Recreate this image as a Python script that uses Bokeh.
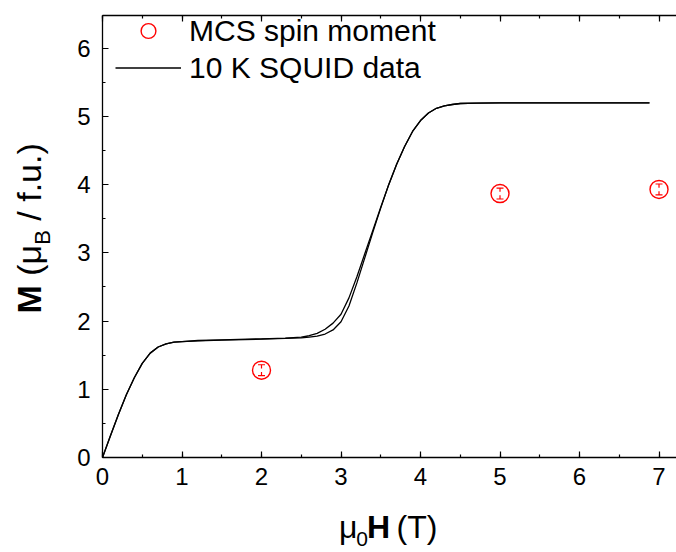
import math
from bokeh.plotting import figure
from bokeh.layouts import row, column
from bokeh.models import (Range1d, LinearAxis, Label, Legend, LegendItem, Whisker,
                          ColumnDataSource, TeeHead, SingleIntervalTicker,
                          CustomLabelingPolicy)
from bokeh.embed import file_html
from bokeh.resources import INLINE

# ---- data ----
H_up = [0, 0.1, 0.2, 0.3, 0.4, 0.5, 0.6, 0.7, 0.8, 0.9, 1.0, 1.2, 1.5, 2.0, 2.3, 2.5, 2.6, 2.7,
        2.8, 2.9, 3.0, 3.1, 3.2, 3.3, 3.4, 3.5, 3.6, 3.7, 3.8, 3.9, 4.0, 4.1, 4.2, 4.3, 4.4,
        4.5, 4.7, 5.0, 5.5, 6.0, 6.5, 6.88]
M_up = [0, 0.32, 0.63, 0.92, 1.17, 1.38, 1.53, 1.62, 1.665, 1.69, 1.70, 1.71, 1.72, 1.735,
        1.745, 1.755, 1.765, 1.78, 1.81, 1.87, 1.99, 2.22, 2.56, 2.93, 3.30, 3.66, 4.00, 4.30,
        4.56, 4.78, 4.94, 5.05, 5.12, 5.155, 5.175, 5.19, 5.195, 5.2, 5.2, 5.2, 5.2, 5.2]
H_down = [0, 0.1, 0.2, 0.3, 0.4, 0.5, 0.6, 0.7, 0.8, 0.9, 1.0, 1.2, 1.5, 2.0, 2.3, 2.5, 2.6,
          2.7, 2.8, 2.9, 3.0, 3.1, 3.2, 3.3, 3.4, 3.5, 3.6, 3.7, 3.8, 3.9, 4.0, 4.1, 4.2, 4.3,
          4.4, 4.5, 4.7, 5.0, 5.5, 6.0, 6.5, 6.88]
M_down = [0, 0.32, 0.63, 0.92, 1.17, 1.38, 1.53, 1.62, 1.665, 1.69, 1.70, 1.715, 1.725, 1.74,
          1.75, 1.765, 1.785, 1.82, 1.88, 1.97, 2.10, 2.34, 2.65, 2.99, 3.33, 3.67, 4.00, 4.30,
          4.56, 4.78, 4.94, 5.05, 5.12, 5.155, 5.175, 5.19, 5.195, 5.2, 5.2, 5.2, 5.2, 5.2]
mcs_H = [2, 5, 7]
mcs_M = [1.28, 3.87, 3.93]
mcs_err = [0.08, 0.08, 0.08]
err_gap = 0.025

legend_labels = ["MCS spin moment", "10 K SQUID data"]
x_title = [("μ", "normal"), ("0", "sub"), ("H", "bold"), (" (T)", "normal")]
y_title = [("M", "bold"), (" (μ", "normal"), ("B", "sub"), (" / f.u.)", "normal")]

FONT = "Liberation Sans"
X0, X1, Y0, Y1 = 0, 7.22, 0, 6.48
W, HGT = 676, 552
YT_W = 55          # strip for the y title
XT_H = 47          # strip for the x title

# ---- main plot ----
p = figure(width=W - YT_W, height=HGT - XT_H, x_range=Range1d(X0, X1),
           y_range=Range1d(Y0, Y1), output_backend="svg", toolbar_location=None,
           min_border_left=47, min_border_right=0, min_border_top=15, min_border_bottom=48)
p.grid.visible = False
p.outline_line_color = None


def style_axis(ax, labels=True):
    ax.ticker = SingleIntervalTicker(interval=1, num_minor_ticks=2)
    ax.major_tick_in = 6
    ax.major_tick_out = 0
    ax.minor_tick_in = 3
    ax.minor_tick_out = 0
    ax.axis_line_width = 1.3
    ax.major_tick_line_width = 1.2
    ax.minor_tick_line_width = 1.2
    ax.axis_line_color = "black"
    ax.major_tick_line_color = "black"
    ax.minor_tick_line_color = "black"
    if labels:
        ax.major_label_text_font = FONT
        ax.major_label_text_font_size = "24px"
        ax.major_label_text_color = "black"
    else:
        ax.major_label_policy = CustomLabelingPolicy(code="return []")
        ax.major_label_text_font_size = "1px"
        ax.major_label_standoff = 0


style_axis(p.xaxis[0])
style_axis(p.yaxis[0])
p.xaxis[0].major_label_standoff = 10
p.yaxis[0].major_label_standoff = 12
top = LinearAxis()
style_axis(top, labels=False)
p.add_layout(top, "above")

l_up = p.line(H_up, M_up, line_color="black", line_width=1.3)
l_down = p.line(H_down, M_down, line_color="black", line_width=1.3)

src = ColumnDataSource(dict(
    x=mcs_H, y=mcs_M,
    hi0=[m + err_gap for m in mcs_M], hi1=[m + e for m, e in zip(mcs_M, mcs_err)],
    lo0=[m - err_gap for m in mcs_M], lo1=[m - e for m, e in zip(mcs_M, mcs_err)]))
sc = p.scatter("x", "y", source=src, size=18, marker="circle", fill_color=None,
               line_color="#ff0000", line_width=1.4)
for lo, hi, uh, lh in [("hi0", "hi1", True, False), ("lo1", "lo0", False, True)]:
    p.add_layout(Whisker(source=src, base="x", lower=lo, upper=hi, dimension="height",
                         line_color="#ff0000", line_width=1.2,
                         upper_head=TeeHead(size=7, line_color="#ff0000", line_width=1.2) if uh else None,
                         lower_head=TeeHead(size=7, line_color="#ff0000", line_width=1.2) if lh else None))

legend = Legend(items=[LegendItem(label=legend_labels[0], renderers=[sc]),
                       LegendItem(label=legend_labels[1], renderers=[l_up])],
                location=(13, 371), glyph_width=66, glyph_height=37, spacing=0,
                padding=0, margin=0, label_standoff=8,
                label_text_font=FONT, label_text_font_size="30px", label_text_color="black",
                border_line_color=None, background_fill_alpha=0)
p.add_layout(legend)

# ---- title strips (pixel coordinates of the page) ----
def strip(w, h, xr, yr):
    f = figure(width=w, height=h, x_range=Range1d(*xr), y_range=Range1d(*yr),
               output_backend="svg", toolbar_location=None,
               x_axis_location=None, y_axis_location=None, min_border=0)
    f.outline_line_color = None
    f.grid.visible = False
    return f

ADV = {" ": 278, "(": 333, ")": 333, "/": 278, "f": 278, ".": 278, "u": 556, "μ": 576,
       "0": 556, "T": 611, "B": 667, "M": 833, "H": 722}
def width(s, size):
    return sum(ADV[c] for c in s) * size / 1000.0

BASE_FIX = 0.43   # anchor correction (fraction of font size) for the baseline

xs = strip(W - YT_W, XT_H, (YT_W, W), (HGT, HGT - XT_H))
pos, base = 311, 540
for txt, kind in x_title:
    sz = 21 if kind == "sub" else 32
    off = 8 if kind == "sub" else 0
    lead = len(txt) - len(txt.lstrip(" "))
    pos += width(" " * lead, sz)
    t = txt.lstrip(" ")
    xs.add_layout(Label(x=pos, y=base + off - BASE_FIX * sz, text=t, text_font=FONT,
                        text_font_size=f"{sz}px",
                        text_font_style="bold" if kind == "bold" else "normal",
                        text_color="black", text_align="left", text_baseline="alphabetic"))
    pos += width(t, sz)

ys = strip(YT_W, HGT, (0, YT_W), (HGT, 0))
pos, basex = 313, 43
for txt, kind in y_title:
    sz = 22 if kind == "sub" else 34
    off = 8 if kind == "sub" else 0
    lead = len(txt) - len(txt.lstrip(" "))
    pos -= width(" " * lead, sz)
    t = txt.lstrip(" ")
    ys.add_layout(Label(x=basex + off - BASE_FIX * sz, y=pos, text=t, text_font=FONT,
                        text_font_size=f"{sz}px",
                        text_font_style="bold" if kind == "bold" else "normal",
                        text_color="black", text_align="left", text_baseline="alphabetic",
                        angle=math.pi / 2))
    pos -= width(t, sz)

layout = row(ys, column(p, xs))
open("out.html", "w").write(file_html(layout, INLINE))
